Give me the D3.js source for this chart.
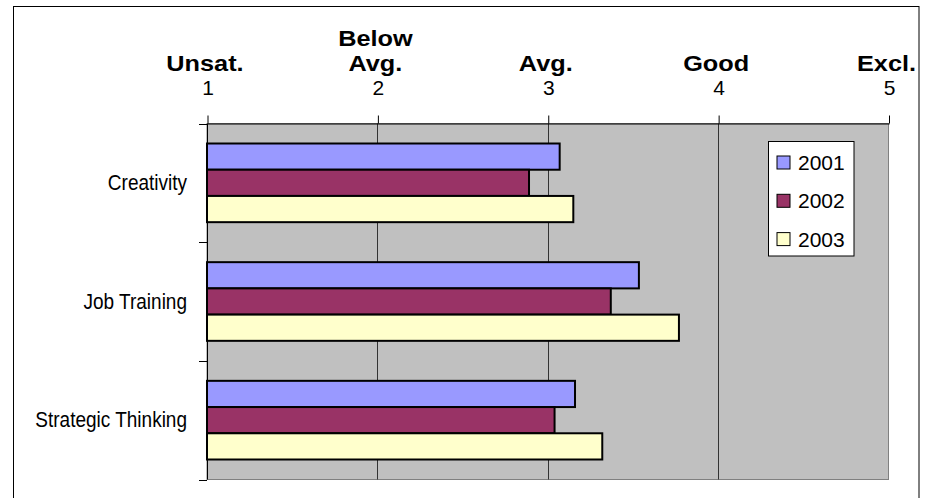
<!DOCTYPE html>
<html>
<head>
<meta charset="utf-8">
<script src="https://cdn.jsdelivr.net/npm/d3@7/dist/d3.min.js"></script>
<style>
  html, body { margin: 0; padding: 0; background: #fff; }
  svg { display: block; font-family: "Liberation Sans", Arial, sans-serif; }
</style>
</head>
<body>
<svg id="chart" width="926" height="498"></svg>
<script>
// Ratings by skill area and year (scale 1–5)
const categories = ["Creativity", "Job Training", "Strategic Thinking"];
const years = ["2001", "2002", "2003"];
const values2001 = [3.07, 3.535, 3.16];
const values2002 = [2.89, 3.37, 3.04];
const values2003 = [3.15, 3.77, 3.32];
const seriesColors = ["#9999FF", "#993366", "#FFFFCC"];
const tickValues = [1, 2, 3, 4, 5];
const tickWords = [["Unsat."], ["Below", "Avg."], ["Avg."], ["Good"], ["Excl."]];

const series = [values2001, values2002, values2003];

const svg = d3.select("#chart");

// outer chart frame (runs past the bottom edge)
svg.append("rect")
  .attr("x", 13.5).attr("y", 6.5)
  .attr("width", 905.5).attr("height", 520)
  .attr("fill", "#fff").attr("stroke", "#000").attr("stroke-width", 1);

const plot = { left: 207, right: 888.5, top: 123.5, bottom: 479.5 };

const x = d3.scaleLinear().domain([1, 5]).range([plot.left, plot.right]);
const y = d3.scaleBand().domain(categories).range([plot.top, plot.bottom]);
const pad = 20;
const yInner = d3.scaleBand().domain(years).range([pad, y.bandwidth() - pad]);

// plot background
svg.append("rect")
  .attr("x", plot.left).attr("y", plot.top)
  .attr("width", plot.right - plot.left).attr("height", plot.bottom - plot.top)
  .attr("fill", "#C0C0C0").attr("stroke", "#808080").attr("stroke-width", 1);

// vertical gridlines
svg.append("g")
  .selectAll("line")
  .data(tickValues.slice(1, -1))
  .join("line")
  .attr("x1", d => Math.round(x(d)) + 0.5).attr("x2", d => Math.round(x(d)) + 0.5)
  .attr("y1", plot.top).attr("y2", plot.bottom)
  .attr("stroke", "#333").attr("stroke-width", 1);

// top axis with outward ticks
const topAxis = d3.axisTop(x).tickValues(tickValues).tickSize(8).tickSizeOuter(0).tickFormat("");
const gTop = svg.append("g")
  .attr("transform", `translate(0.5,${plot.top})`)
  .call(topAxis);
gTop.selectAll("line").attr("stroke", "#000");
gTop.select(".domain").attr("stroke", "#000");

// tick numbers
svg.append("g")
  .selectAll("text")
  .data(tickValues)
  .join("text")
  .attr("x", d => x(d) + 1)
  .attr("y", 95)
  .attr("text-anchor", "middle")
  .attr("font-size", 21)
  .attr("fill", "#000")
  .text(d => d);

// bold rating words stacked above each number
const words = svg.append("g");
tickValues.forEach((v, i) => {
  const lines = tickWords[i];
  lines.forEach((w, j) => {
    const fromBottom = lines.length - 1 - j;
    words.append("text")
      .attr("transform", `translate(${x(v) - 2},${71 - fromBottom * 25}) scale(1.15,1)`)
      .attr("text-anchor", "middle")
      .attr("font-size", 22)
      .attr("font-weight", "bold")
      .attr("fill", "#000")
      .text(w);
  });
});

// left axis: line and category separators
const sepY = categories.map(c => y(c)).concat([plot.bottom]);
svg.append("line")
  .attr("x1", plot.left + 0.5).attr("x2", plot.left + 0.5)
  .attr("y1", plot.top).attr("y2", plot.bottom)
  .attr("stroke", "#000");
svg.append("g")
  .selectAll("line")
  .data(sepY)
  .join("line")
  .attr("x1", plot.left - 8).attr("x2", plot.left)
  .attr("y1", d => Math.round(d) + 0.5).attr("y2", d => Math.round(d) + 0.5)
  .attr("stroke", "#000");

// category labels
svg.append("g")
  .selectAll("text")
  .data(categories)
  .join("text")
  .attr("transform", d => `translate(187,${y(d) + y.bandwidth() / 2 + 7}) scale(1,1.13)`)
  .attr("text-anchor", "end")
  .attr("font-size", 19)
  .attr("fill", "#000")
  .text(d => d);

// bars
const barG = svg.append("g");
series.forEach((vals, si) => {
  barG.selectAll(null)
    .data(categories)
    .join("rect")
    .attr("x", x(1))
    .attr("y", (c) => y(c) + yInner(years[si]))
    .attr("width", (c, ci) => x(vals[ci]) - x(1))
    .attr("height", yInner.bandwidth())
    .attr("fill", seriesColors[si])
    .attr("stroke", "#000")
    .attr("stroke-width", 2);
});

// legend
const lg = svg.append("g").attr("transform", "translate(768.5,141.5)");
lg.append("rect")
  .attr("width", 85.5).attr("height", 114.5)
  .attr("fill", "#fff").attr("stroke", "#000").attr("stroke-width", 1);
years.forEach((yr, i) => {
  const cy = 21 + i * 38.3;
  lg.append("rect")
    .attr("x", 8.5).attr("y", cy - 6.5)
    .attr("width", 13).attr("height", 13)
    .attr("fill", seriesColors[i]).attr("stroke", "#000").attr("stroke-width", 1);
  lg.append("text")
    .attr("x", 29.5).attr("y", cy + 7.5)
    .attr("font-size", 21)
    .attr("fill", "#000")
    .text(yr);
});
</script>
</body>
</html>
